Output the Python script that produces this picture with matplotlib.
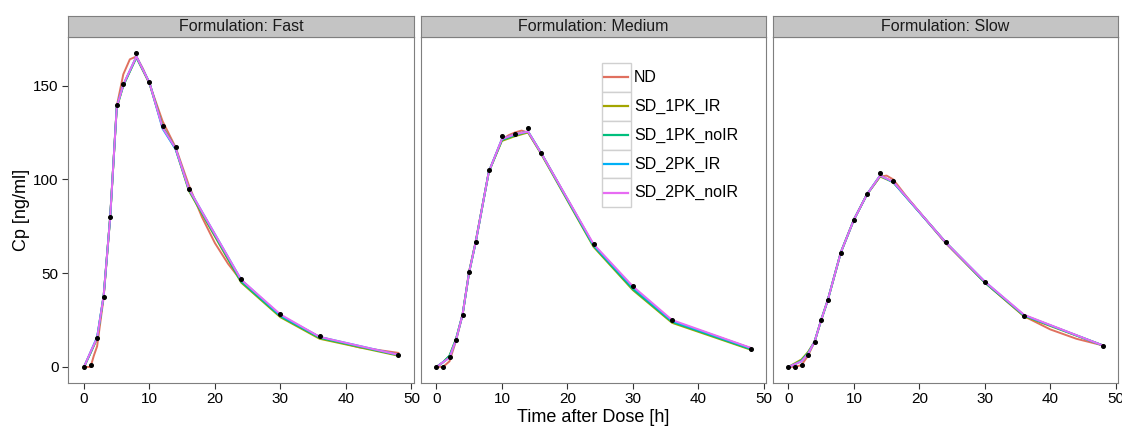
"""
Concentration-time profiles per formulation (observed vs. model fits),
faceted like a ggplot theme_bw chart. Saved as out.png.
"""

import matplotlib.pyplot as plt
from matplotlib.patches import Rectangle
from matplotlib.lines import Line2D

plt.rcParams["font.family"] = ["Liberation Sans", "DejaVu Sans"]

# ---- data -----------------------------------------------------------------
formulations = ["Fast", "Medium", "Slow"]
models = ["ND", "SD_1PK_IR", "SD_1PK_noIR", "SD_2PK_IR", "SD_2PK_noIR"]
model_colors = ["#E0705F", "#A3A500", "#00BF7D", "#00B0F6", "#E76BF3"]

times = [0, 1, 2, 3, 4, 5, 6, 8, 10, 12, 14, 16, 24, 30, 36, 48]

# observed concentrations (black dots)
obs_fast = [0, 0.8, 15.5, 37.5, 80, 139.5, 151, 167.5, 152, 128.5, 117.5, 95, 47, 28, 16.5, 6.3]
obs_medium = [0, 0, 5.2, 14.6, 27.8, 50.8, 66.7, 104.8, 123, 124.4, 127.5, 114, 65.6, 43, 25, 9.8]
obs_slow = [0, 0, 1, 6.6, 13.5, 24.8, 35.5, 61, 78.6, 92.3, 103.4, 99.1, 66.5, 45.5, 26.9, 11.4]

# ND model: evaluated on a finer time grid
nd_times_fast = [0, 1, 1.5, 2, 3, 4, 5, 6, 7, 8, 9, 10, 12, 14, 16, 18, 20, 22, 24, 30, 36, 42, 48]
nd_fast = [0, 0, 6, 11, 37, 80, 139, 156, 164, 165.5, 159, 151, 131, 117, 97, 80, 66, 55, 46, 27, 16, 10.5, 7.5]
nd_times_medium = [0, 1, 2, 3, 4, 5, 6, 8, 10, 11, 12, 13, 14, 16, 24, 30, 36, 48]
nd_medium = [0, 0, 3, 14, 28, 51, 67, 104, 121, 123.5, 125, 126, 125, 114, 65, 42, 24.5, 10]
nd_times_slow = [0, 1, 2, 3, 4, 5, 6, 8, 10, 12, 14, 15, 16, 18, 24, 30, 36, 40, 44, 48]
nd_slow = [0, 0, 1, 6, 13.5, 25, 35.5, 61, 78.5, 92, 101.5, 102, 100, 91, 66, 45, 27, 20, 15, 11.5]

# SD models: evaluated at the sampling times
sd1_ir_fast = [0, 7.5, 15, 38, 80, 138, 150, 165, 151, 128, 116, 94, 45, 26.5, 15, 6]
sd1_noir_fast = [0, 7.5, 15.5, 38, 80, 138.5, 150, 165, 151.5, 128, 116.5, 94.5, 45.5, 27, 15.5, 6.3]
sd2_ir_fast = [0, 8, 16, 38, 80, 138.5, 150.5, 165.5, 151.5, 127, 116, 95, 46.5, 27.5, 16, 6.5]
sd2_noir_fast = [0, 8, 15.5, 38, 80, 138.5, 150.5, 165.5, 151.5, 127.5, 116.5, 95, 46.5, 28, 16, 6.5]

sd1_ir_medium = [0, 2.5, 6, 15, 28, 50.5, 66.5, 104, 120.5, 123, 125, 113.5, 64, 41, 23.5, 9.2]
sd1_noir_medium = [0, 2.5, 6, 15, 28, 50.5, 66.5, 104, 121, 123.5, 125.5, 114, 64.5, 41.5, 24, 9.5]
sd2_ir_medium = [0, 2.5, 5, 14.5, 28, 50.5, 66.5, 104, 121.5, 124, 125.5, 114, 65, 42.5, 24.5, 10]
sd2_noir_medium = [0, 2.5, 5, 14.5, 28, 50.5, 66.5, 104, 121.5, 124, 125.5, 114, 65.5, 43, 25, 10.2]

sd1_ir_slow = [0, 2, 4, 8, 13.5, 25, 35.5, 61, 78.5, 92, 101.5, 98.5, 66.5, 45, 27, 11.5]
sd1_noir_slow = [0, 1.5, 3.5, 7.5, 13.5, 25, 35.5, 61, 78.5, 92, 102, 98.5, 66.5, 45, 27.5, 11.5]
sd2_ir_slow = [0, 1.5, 3, 7, 13.5, 25, 35.5, 61, 78.5, 92, 102, 98.5, 66.5, 45.5, 27.5, 11.5]
sd2_noir_slow = [0, 1.5, 3, 7, 13.5, 25, 35.5, 61, 78.5, 92, 102, 98.8, 66.5, 45.5, 27.8, 11.5]

panels = {
    "Fast": (obs_fast, (nd_times_fast, nd_fast),
             [sd1_ir_fast, sd1_noir_fast, sd2_ir_fast, sd2_noir_fast]),
    "Medium": (obs_medium, (nd_times_medium, nd_medium),
               [sd1_ir_medium, sd1_noir_medium, sd2_ir_medium, sd2_noir_medium]),
    "Slow": (obs_slow, (nd_times_slow, nd_slow),
             [sd1_ir_slow, sd1_noir_slow, sd2_ir_slow, sd2_noir_slow]),
}

# ---- figure ---------------------------------------------------------------
W, H = 1122, 428
fig = plt.figure(figsize=(W / 100, H / 100), dpi=100)
fig.patch.set_facecolor("white")

panel_left = [68.3, 420.7, 772.7]
panel_w = 345.7
panel_top, panel_bottom = 37, 382.7
strip_h = 21
FRAME = "#7F7F7F"

axes = []
for i, form in enumerate(formulations):
    left = panel_left[i] / W
    bottom = (H - panel_bottom) / H
    height = (panel_bottom - panel_top) / H
    ax = fig.add_axes([left, bottom, panel_w / W, height])
    axes.append(ax)

    obs, (nd_t, nd_v), sd_list = panels[form]
    ax.plot(nd_t, nd_v, color=model_colors[0], lw=1.4, zorder=2)
    for vals, col in zip(sd_list, model_colors[1:]):
        ax.plot(times, vals, color=col, lw=1.4, zorder=2)
    ax.plot(times, obs, "o", color="black", markersize=2.6, zorder=3)

    ax.set_xlim(-2.4, 50.4)
    ax.set_ylim(-8.4, 175.9)
    ax.set_xticks([0, 10, 20, 30, 40, 50])
    ax.set_yticks([0, 50, 100, 150])
    if i > 0:
        ax.tick_params(axis="y", left=False, labelleft=False)
    ax.tick_params(direction="out", length=4, width=0.8, color="#333333",
                   labelsize=11, labelcolor="black", pad=3)
    for sp in ax.spines.values():
        sp.set_color(FRAME)
        sp.set_linewidth(0.8)

    # facet strip
    sax = fig.add_axes([left, (H - panel_top) / H, panel_w / W, strip_h / H])
    sax.set_facecolor("#C4C4C4")
    sax.set_xticks([])
    sax.set_yticks([])
    for sp in sax.spines.values():
        sp.set_color(FRAME)
        sp.set_linewidth(0.8)
    sax.text(0.5, 0.5, f"Formulation: {form}", ha="center", va="center",
             fontsize=11.5, color="#1A1A1A", transform=sax.transAxes)

# legend inside the middle panel, ggplot style key boxes
lax = axes[1]
cell_x0, cell_x1 = 0.523, 0.607
cell_top, cell_h = 0.925, 0.0835
for k, (name, col) in enumerate(zip(models, model_colors)):
    y0 = cell_top - (k + 1) * cell_h
    lax.add_patch(Rectangle((cell_x0, y0), cell_x1 - cell_x0, cell_h,
                            transform=lax.transAxes, facecolor="white",
                            edgecolor="#D0D0D0", lw=1.0, zorder=4))
    lax.add_line(Line2D([cell_x0 + 0.008, cell_x1 - 0.008], [y0 + cell_h / 2] * 2,
                        transform=lax.transAxes, color=col, lw=1.6, zorder=5))
    lax.text(cell_x1 + 0.01, y0 + cell_h / 2, name, transform=lax.transAxes,
             ha="left", va="center", fontsize=11.5, zorder=5)

fig.text(22 / W, 1 - 210 / H, "Cp [ng/ml]", rotation=90, ha="center",
         va="center", fontsize=13)
fig.text(593 / W, 1 - 418 / H, "Time after Dose [h]", ha="center",
         va="center", fontsize=13)

fig.savefig("out.png", dpi=100, facecolor="white")
plt.close(fig)
